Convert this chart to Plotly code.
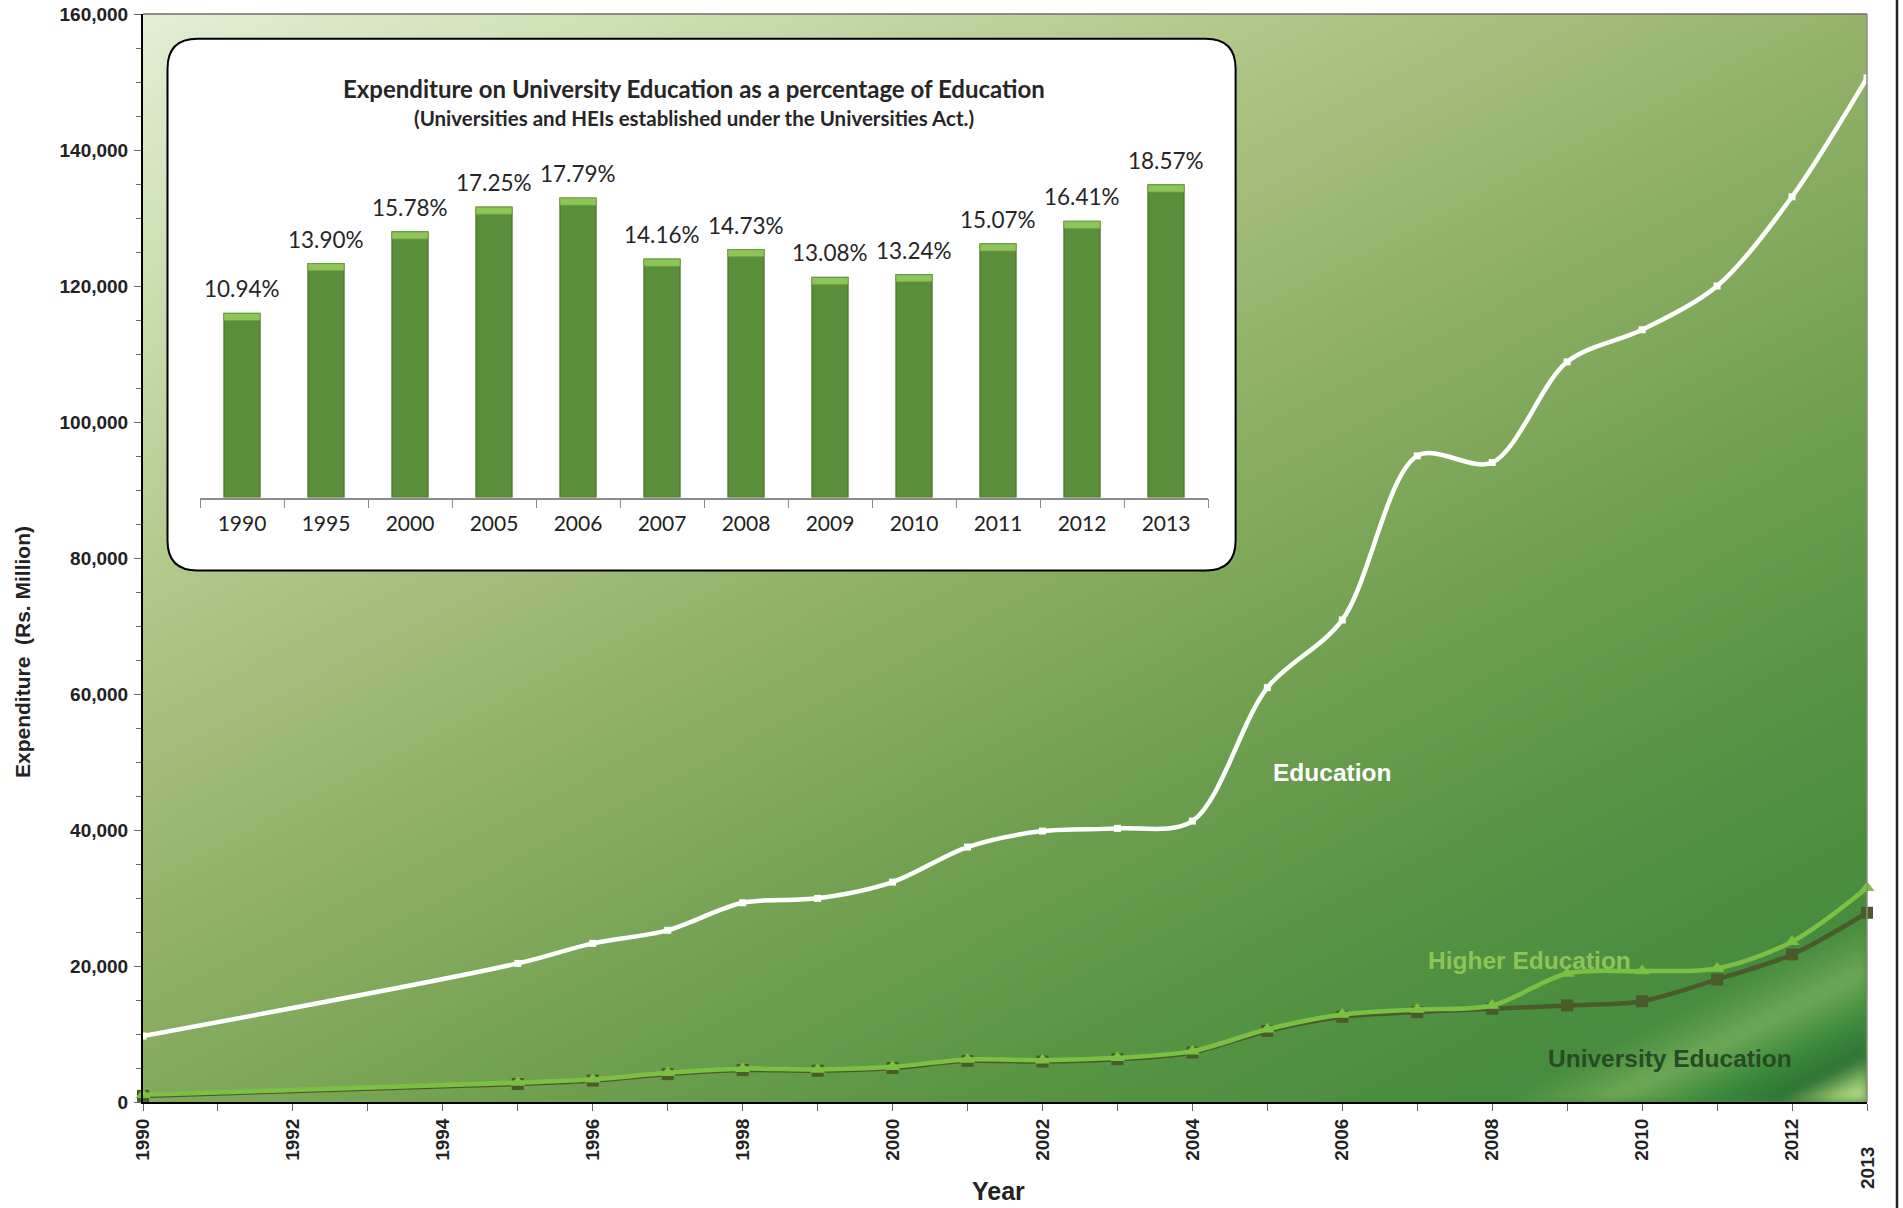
import base64
import plotly.graph_objects as go

# ---------------- data ----------------
years = [1990, 1995, 1996, 1997, 1998, 1999, 2000, 2001, 2002, 2003, 2004,
         2005, 2006, 2007, 2008, 2009, 2010, 2011, 2012, 2013]
education = [9700, 20380, 23330, 25250, 29300, 29950, 32340, 37490, 39840, 40240, 41310,
             60940, 70890, 95020, 94040, 108850, 113560, 120000, 133120, 150600]
higher_education = [1050, 2850, 3330, 4300, 4900, 4780, 5180, 6250, 6150, 6500, 7480,
                    10700, 12880, 13620, 14200, 18900, 19250, 19640, 23580, 31500]
university_education = [900, 2650, 3150, 4100, 4700, 4600, 5000, 6050, 5950, 6300, 7280,
                        10450, 12530, 13220, 13710, 14200, 14830, 18020, 21700, 27830]

x_tick_years = list(range(1990, 2014))
x_tick_labels = [str(y) if (y % 2 == 0 and y != 2013) else "" for y in x_tick_years]
last_year_label = "2013"

inset_years = ["1990", "1995", "2000", "2005", "2006", "2007", "2008", "2009",
               "2010", "2011", "2012", "2013"]
inset_pct = [10.94, 13.90, 15.78, 17.25, 17.79, 14.16, 14.73, 13.08, 13.24, 15.07, 16.41, 18.57]

inset_title = "Expenditure on University Education as a percentage of Education"
inset_subtitle = "(Universities and HEIs established under the Universities Act.)"

# ---------------- layout geometry (reference pixel coords) ----------------
W, H = 1903, 1208
PL, PR, PT, PB = 143, 1867, 14, 1102   # plot area in reference pixels
ML, MT = PL, PT
MR, MB = W - PR, H - PB
PW, PH = PR - PL, PB - PT


def px_x(px):
    return (px - PL) / PW


def px_y(py):
    return (PB - py) / PH


# gradient background as an SVG image
svg = f'''<svg xmlns="http://www.w3.org/2000/svg" width="{PW}" height="{PH}" viewBox="0 0 {PW} {PH}" preserveAspectRatio="none">
<defs>
<linearGradient id="g" x1="0" y1="0" x2="0.9" y2="1.1" gradientUnits="objectBoundingBox">
<stop offset="0" stop-color="#e3eed5"/>
<stop offset="0.12" stop-color="#cfe0b5"/>
<stop offset="0.28" stop-color="#b2c98c"/>
<stop offset="0.45" stop-color="#94b36a"/>
<stop offset="0.60" stop-color="#77a354"/>
<stop offset="0.75" stop-color="#5a9545"/>
<stop offset="0.90" stop-color="#468b3e"/>
<stop offset="1" stop-color="#3d863b"/>
</linearGradient>
<linearGradient id="c" gradientUnits="userSpaceOnUse" x1="1649" y1="938" x2="1724" y2="1088">
<stop offset="0" stop-color="#6fa858" stop-opacity="0"/>
<stop offset="0.3" stop-color="#74ad5a" stop-opacity="0.85"/>
<stop offset="0.55" stop-color="#3c8a3c" stop-opacity="0.9"/>
<stop offset="0.75" stop-color="#2a7033" stop-opacity="0.9"/>
<stop offset="0.9" stop-color="#a5cf78" stop-opacity="1"/>
<stop offset="1" stop-color="#bfe08a" stop-opacity="1"/>
</linearGradient>
<filter id="b"><feGaussianBlur stdDeviation="5"/></filter>
</defs>
<rect width="{PW}" height="{PH}" fill="url(#g)"/>
<polygon points="{PW},880 {PW},{PH} 1330,{PH}" fill="url(#c)" filter="url(#b)"/>
</svg>'''
svg_uri = "data:image/svg+xml;base64," + base64.b64encode(svg.encode()).decode()

fig = go.Figure()

# main lines
fig.add_trace(go.Scatter(
    x=years, y=education, mode="lines+markers", name="Education",
    line=dict(color="white", width=4.5, shape="spline", smoothing=0.9),
    marker=dict(symbol="square", size=7, color="white"), cliponaxis=False))
fig.add_trace(go.Scatter(
    x=years, y=university_education, mode="lines+markers", name="University Education",
    line=dict(color="#4b5a2b", width=4.5, shape="spline", smoothing=0.9),
    marker=dict(symbol="square", size=12, color="#4b5a2b"), cliponaxis=False))
fig.add_trace(go.Scatter(
    x=years, y=higher_education, mode="lines+markers", name="Higher Education",
    line=dict(color="#7cc043", width=4.5, shape="spline", smoothing=0.9),
    marker=dict(symbol="triangle-up", size=13, color="#7cc043"), cliponaxis=False))

# inset bars
fig.add_trace(go.Bar(
    x=inset_years, y=inset_pct, xaxis="x2", yaxis="y2", width=0.43,
    marker=dict(color="#5b8e3b", line=dict(color="#46742c", width=1.2)),
    hoverinfo="skip"))
cap = 0.42
fig.add_trace(go.Bar(
    x=inset_years, y=[cap] * len(inset_pct), base=[v - cap for v in inset_pct],
    xaxis="x2", yaxis="y2", width=0.43,
    marker=dict(color="#8dc558", line=dict(color="#6da23f", width=0.8)),
    hoverinfo="skip"))

axis_font = dict(family="Liberation Sans, Arial", size=19, color="#222222", weight="bold")

fig.update_layout(
    width=W, height=H,
    margin=dict(l=ML, r=MR, t=MT, b=MB, autoexpand=False),
    paper_bgcolor="white", plot_bgcolor="rgba(0,0,0,0)",
    showlegend=False, barmode="overlay",
    xaxis=dict(range=[1990, 2013], domain=[0, 1], tickmode="array",
               tickvals=x_tick_years, ticktext=x_tick_labels, tickangle=-90,
               ticks="outside", ticklen=7, tickcolor="#666666", tickwidth=1.2,
               showline=True, linecolor="black", linewidth=2, showgrid=False,
               zeroline=False, tickfont=axis_font, ticklabeloverflow="allow",
               automargin=False),
    yaxis=dict(range=[0, 160000], domain=[0, 1], dtick=20000, tickformat=",d",
               ticks="outside", ticklen=7, tickcolor="#666666", tickwidth=1.2,
               minor=dict(dtick=5000, ticks="outside", ticklen=5, tickcolor="#666666", tickwidth=1),
               showline=True, linecolor="black", linewidth=2, showgrid=False,
               zeroline=False, tickfont=axis_font, ticklabelstandoff=2,
               ticklabeloverflow="allow", automargin=False),
    xaxis2=dict(domain=[px_x(200), px_x(1208)], anchor="y2", type="category",
                range=[-0.5, len(inset_years) - 0.5], autorange=False,
                showline=True, linecolor="#8c8c8c", linewidth=1.5,
                ticks="outside", tickson="boundaries", ticklen=9, tickcolor="#8c8c8c",
                showgrid=False, zeroline=False, ticklabelstandoff=6, automargin=False,
                tickfont=dict(family="Lato", size=21, color="#222222")),
    yaxis2=dict(domain=[px_y(497.6), px_y(160.9)], anchor="x2", range=[0, 20],
                visible=False, showgrid=False, zeroline=False),
    images=[dict(source=svg_uri, xref="paper", yref="paper", x=0, y=1,
                 sizex=1, sizey=1, xanchor="left", yanchor="top",
                 sizing="stretch", layer="below")],
)

# inset rounded box
x0, x1 = px_x(167.5), px_x(1235.6)
y1, y0 = px_y(38.8), px_y(570.4)
rx, ry = 30 / PW, 30 / PH
path = (f"M {x0+rx},{y1} L {x1-rx},{y1} Q {x1},{y1} {x1},{y1-ry} "
        f"L {x1},{y0+ry} Q {x1},{y0} {x1-rx},{y0} "
        f"L {x0+rx},{y0} Q {x0},{y0} {x0},{y0+ry} "
        f"L {x0},{y1-ry} Q {x0},{y1} {x0+rx},{y1} Z")
fig.add_shape(type="path", path=path, xref="paper", yref="paper",
              fillcolor="white", line=dict(color="black", width=2), layer="below")

# plot frame (top/right grey)
fig.add_shape(type="line", xref="paper", yref="paper", x0=0, x1=1, y0=1, y1=1,
              line=dict(color="#6e6e6e", width=1.5))
fig.add_shape(type="line", xref="paper", yref="paper", x0=1, x1=1, y0=0, y1=1,
              line=dict(color="#8a8a8a", width=1.5))
# right border of the picture
fig.add_shape(type="line", xref="paper", yref="paper", x0=px_x(1897), x1=px_x(1897),
              y0=px_y(1208), y1=px_y(0), line=dict(color="#222222", width=2.5))

ann = []
for i, v in enumerate(inset_pct):
    ann.append(dict(x=i, y=v, xref="x2", yref="y2", text=f"{v:.2f}%", showarrow=False,
                    xanchor="center", yanchor="bottom", yshift=9,
                    font=dict(family="Lato", size=22.5, color="#262626")))
ann += [
    dict(x=px_x(694), y=px_y(88.6), xref="paper", yref="paper", text=inset_title,
         xanchor="center", yanchor="middle", showarrow=False,
         font=dict(family="Lato", size=24, color="#262626", weight="bold")),
    dict(x=px_x(694), y=px_y(117.7), xref="paper", yref="paper", text=inset_subtitle,
         xanchor="center", yanchor="middle", showarrow=False,
         font=dict(family="Lato", size=20.5, color="#262626", weight="bold")),
    dict(x=2005.86, y=48480, xref="x", yref="y", text="Education", showarrow=False,
         xanchor="center", yanchor="middle",
         font=dict(family="Liberation Sans, Arial", size=24.5, color="white", weight="bold")),
    dict(x=2008.50, y=20830, xref="x", yref="y", text="Higher Education", showarrow=False,
         xanchor="center", yanchor="middle",
         font=dict(family="Liberation Sans, Arial", size=24.5, color="#8fc457", weight="bold")),
    dict(x=2010.37, y=6400, xref="x", yref="y", text="University Education", showarrow=False,
         xanchor="center", yanchor="middle",
         font=dict(family="Liberation Sans, Arial", size=24.5, color="#284a25", weight="bold")),
    dict(x=2013, y=px_y(1168), xref="x", yref="paper", text=last_year_label, textangle=-90,
         xanchor="center", yanchor="middle", showarrow=False, font=axis_font),
    dict(x=px_x(998), y=px_y(1191), xref="paper", yref="paper", text="Year", showarrow=False,
         xanchor="center", yanchor="middle",
         font=dict(family="Liberation Sans, Arial", size=25, color="#222222", weight="bold")),
    dict(x=px_x(22), y=px_y(652), xref="paper", yref="paper", text="Expenditure  (Rs. Million)",
         textangle=-90, xanchor="center", yanchor="middle", showarrow=False,
         font=dict(family="Liberation Sans, Arial", size=21, color="#222222", weight="bold")),
]
fig.update_layout(annotations=ann)

fig.write_html("out.html", config={"displayModeBar": False},
               post_script="document.body.style.margin='0px';document.body.style.overflow='hidden';")
